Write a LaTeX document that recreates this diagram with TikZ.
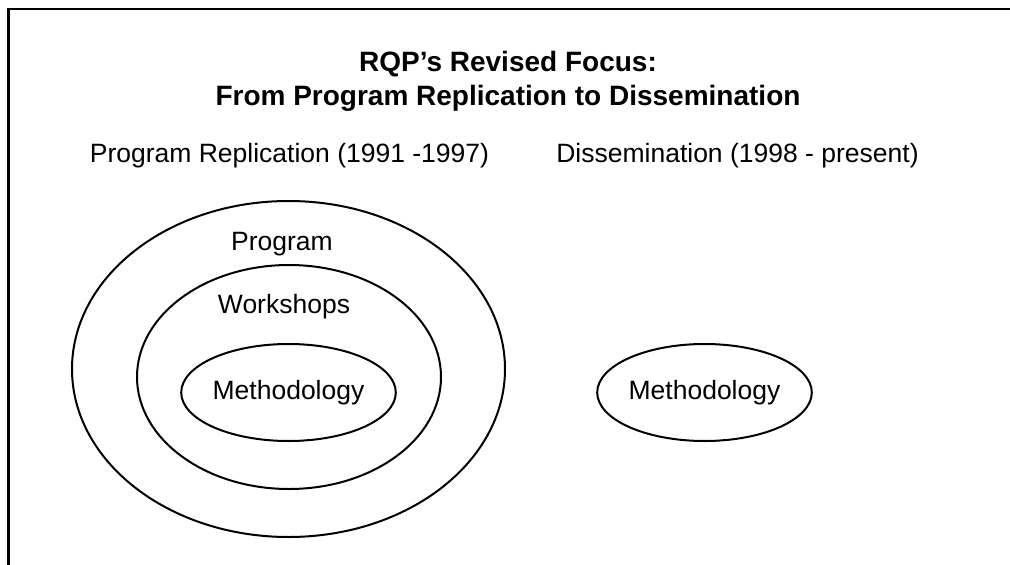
\documentclass[tikz,border=0pt]{standalone}
\usepackage{fontspec}
\setmainfont{Liberation Sans}
\usetikzlibrary{shapes.geometric,positioning}

\begin{document}
\begin{tikzpicture}[x={(1pt,0)}, y={(0,-1pt)},
  ring/.style={line width=2pt},
  lbl/.style={anchor=base, font=\fontsize{26.5}{32}\selectfont},
  ttl/.style={anchor=base, font=\fontsize{28}{34}\selectfont\bfseries},
  meth/.style={ellipse, draw, line width=2pt, inner sep=0pt,
    minimum width=209, minimum height=97, font=\fontsize{26.5}{32}\selectfont}]
\clip (0,0) rectangle (1010,565);
% frame
\draw[line width=2.5pt] (8.5,600) -- (8.5,9) -- (1030,9);
% title
\node[ttl] (t1) at (508,71) {RQP’s Revised Focus:};
\node[ttl] (t2) at (508,105) {From Program Replication to Dissemination};
% column heads
\node[lbl] (old) at (289.5,162) {Program Replication (1991 -1997)};
\node[lbl] (new) at (737.5,162) {Dissemination (1998 - present)};
% nested rings
\coordinate (P) at (288.5,369);
\draw[ring] (P) ellipse [x radius=216.5, y radius=168];
\coordinate (W) at (289,377);
\draw[ring] (W) ellipse [x radius=152, y radius=112];
\node[lbl] (prog) at (282,250) {Program};
\node[lbl] (work) at (284,313) {Workshops};
\node[meth] (m1) at (288.5,392.5) {Methodology};
% methodology on its own
\node[meth] (m2) at (704.5,392.5) {Methodology};
\end{tikzpicture}
\end{document}
